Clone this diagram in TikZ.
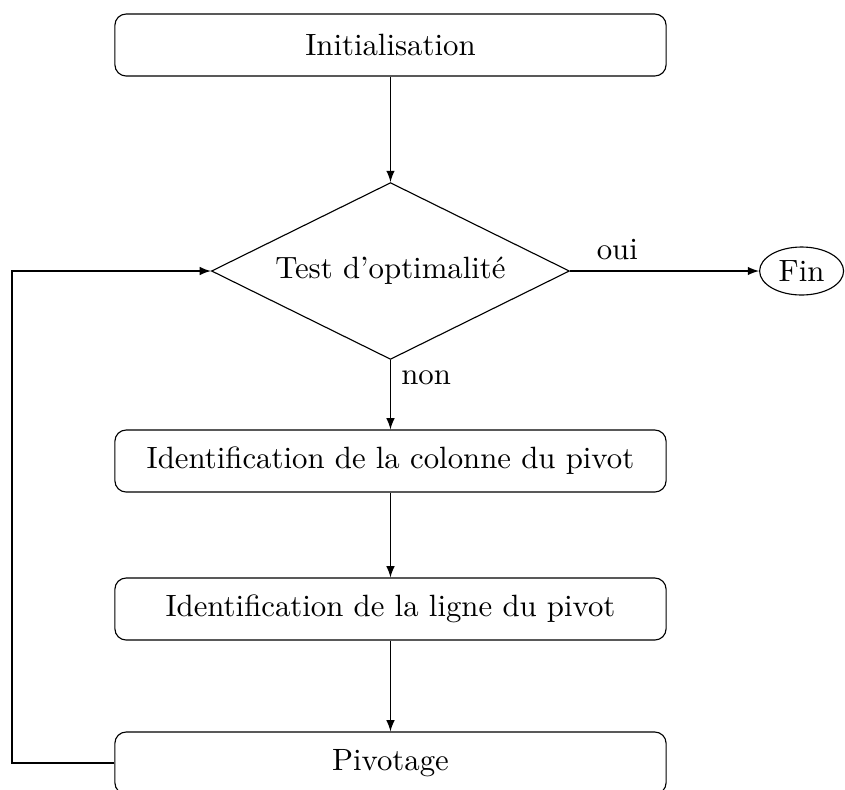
\documentclass[tikz,border=0pt,11pt]{standalone}
\usepackage{tikz}
\usetikzlibrary{shapes.geometric}

\tikzset{
    etape/.style={draw, rounded corners, minimum width=6.89cm, minimum height=0.775cm},
    test/.style={draw, diamond, aspect=2, minimum width=4.475cm, minimum height=2.21cm, inner sep=0pt},
    fin/.style={draw, ellipse, minimum width=1.05cm, minimum height=0.6cm, inner sep=1pt},
}

\begin{document}
\begin{tikzpicture}[>=latex]
    \useasboundingbox (0,0) rectangle (10.5625,-9.8625);
    \clip (0,0) rectangle (10.5625,-9.8625);
    \node[etape](init) at (4.881,-0.5625){Initialisation};
    \node[test](opt) at (4.881,-3.3875){Test d'optimalit\'e};
    \node[fin](fin) at (10.02,-3.3875){Fin};
    \node[etape](col) at (4.881,-5.7625){Identification de la colonne du pivot};
    \node[etape](lig) at (4.881,-7.6125){Identification de la ligne du pivot};
    \node[etape](piv) at (4.881,-9.5375){Pivotage};
    \draw[->](init)--(opt);
    \draw[->](opt.east)--(fin.west)node[pos=0.25, above]{oui};
    \draw[->](opt.south)--(col.north)node[pos=0.25, right]{non};
    \draw[->](col)--(lig);
    \draw[->](lig)--(piv);
    \draw[->](piv.west)-|(0.15,-3.3875)--(opt.west);
\end{tikzpicture}
\end{document}
